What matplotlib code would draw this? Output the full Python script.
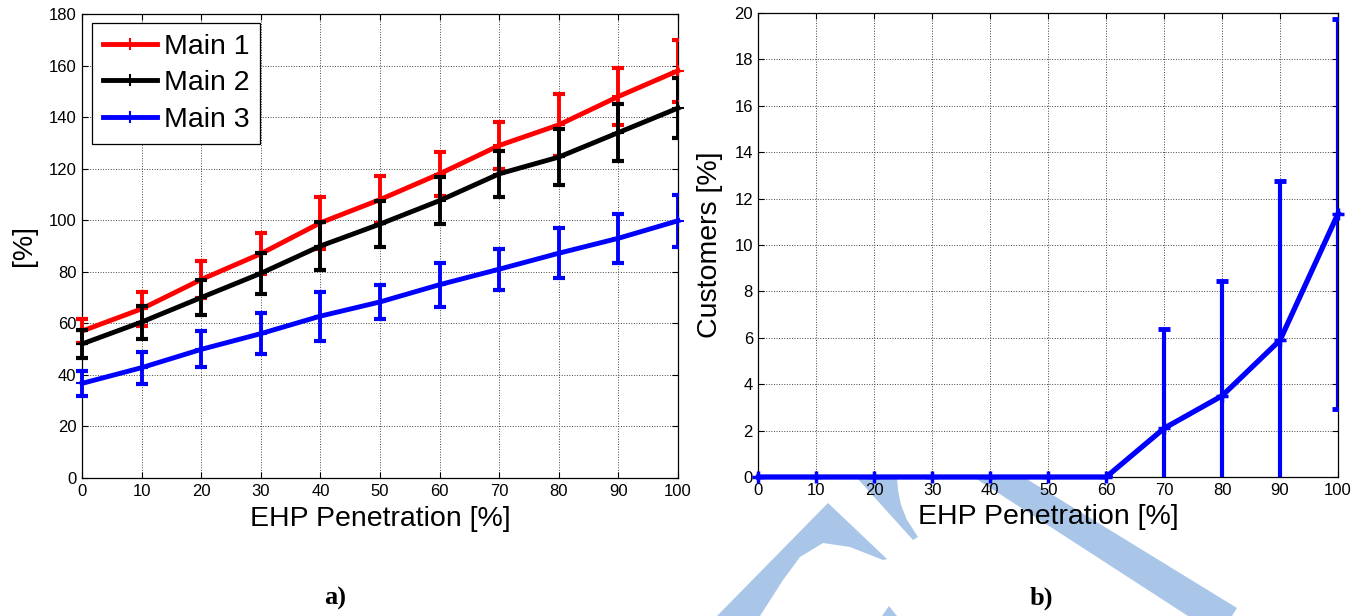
import matplotlib
matplotlib.use("Agg")
import matplotlib.pyplot as plt
from matplotlib.patches import Polygon, Rectangle
import numpy as np

# ---------------- data ----------------
penetration = [0, 10, 20, 30, 40, 50, 60, 70, 80, 90, 100]

main1 = [57, 65.6, 77, 87, 99, 108, 118, 129, 137, 148, 158]
main1_err = [4.5, 6.5, 7, 8, 10, 9, 8.5, 9, 12, 11, 12]

main2 = [52, 60.5, 70, 79.4, 90, 98.5, 107.6, 118, 124.5, 134, 143.5]
main2_err = [5.3, 6.4, 6.8, 8, 9.3, 9, 9.2, 9, 11, 11, 11.5]

main3 = [36.7, 42.8, 49.9, 56, 62.8, 68.3, 75, 81, 87.2, 93, 99.8]
main3_err = [4.7, 6.2, 7, 8, 9.5, 6.6, 8.5, 8, 9.7, 9.5, 10]

customers = [0, 0, 0, 0, 0, 0, 0, 2.1, 3.5, 5.9, 11.35]
customers_err = [0, 0, 0, 0, 0, 0, 0, 4.3, 4.96, 6.86, 8.4]

series_labels = ["Main 1", "Main 2", "Main 3"]
series_colors = ["#ff0000", "#000000", "#0000ff"]

left_yticks = list(range(0, 181, 20))
right_yticks = list(range(0, 21, 2))
xticks = list(range(0, 101, 10))

W, H = 1364, 616
fig = plt.figure(figsize=(W / 100, H / 100), dpi=100)
plt.rcParams['font.family'] = ['Liberation Sans', 'DejaVu Sans']


def px(points):
    return [(x / W, 1 - y / H) for x, y in points]


# ---------------- background watermark ----------------
wm_color = "#a9c6e8"
wm_shapes = [
    [(717, 616), (828, 503), (887, 559), (883, 560), (850, 547), (823, 543),
     (800, 557), (783, 580), (760, 616)],
    [(882, 616), (889, 606), (897, 616)],
    [(857, 478), (897, 478), (898, 490), (901, 505), (907, 520), (918, 537), (913, 540)],
    [(975, 478), (1025, 478), (1237, 608), (1232, 616), (1188, 616)],
]
for shp in wm_shapes:
    fig.add_artist(Polygon(px(shp), closed=True, facecolor=wm_color,
                           edgecolor='none', transform=fig.transFigure, zorder=-5))

# ---------------- axes ----------------
axL = fig.add_axes([82 / W, 1 - 478 / H, 596 / W, 464 / H])
axR = fig.add_axes([758.5 / W, 1 - 477 / H, 579.5 / W, 464 / H])

for ax in (axL, axR):
    ax.set_facecolor('white')
    ax.grid(True, linestyle=':', color='#444444', linewidth=0.7)
    ax.set_axisbelow(True)
    ax.tick_params(direction='in', top=True, right=True, length=4, width=0.8,
                   labelsize=12, pad=4)
    for s in ax.spines.values():
        s.set_linewidth(0.9)
        s.set_color('black')
    ax.set_xlim(0, 100)
    ax.set_xticks(xticks)
    ax.set_xlabel("EHP Penetration [%]", fontsize=20.5, labelpad=5)

# left plot
clipL = Rectangle((-0.05, -0.05), 1.05, 1.1, transform=axL.transAxes,
                  facecolor='none', edgecolor='none')
axL.add_patch(clipL)
handles = []
for vals, errs, col, lab in zip([main1, main2, main3], [main1_err, main2_err, main3_err],
                                series_colors, series_labels):
    eb = axL.errorbar(penetration, vals, yerr=errs, fmt='none', ecolor=col,
                      elinewidth=2.8, capsize=4.6, capthick=3, zorder=3)
    for art in list(eb.lines[1]) + list(eb.lines[2]):
        art.set_clip_path(clipL)
    ln, = axL.plot(penetration, vals, color=col, lw=3.5, marker='+', ms=8, mew=1.5,
                   label=lab, zorder=3, clip_on=False)
    handles.append(ln)
axL.set_ylim(0, 180)
axL.set_yticks(left_yticks)
axL.set_ylabel("[%]", fontsize=20.5, labelpad=8)
leg = axL.legend(handles=handles, loc='upper left', bbox_to_anchor=(0.0168, 0.981),
                 borderaxespad=0, fontsize=20.5, frameon=True, fancybox=False,
                 edgecolor='black', framealpha=1, handlelength=1.9, handletextpad=0.25,
                 labelspacing=0.38, borderpad=0.38, numpoints=1)
leg.get_frame().set_linewidth(0.9)

# right plot
ebR = axR.errorbar(penetration, customers, yerr=customers_err, fmt='none',
                   ecolor='#0000ff', elinewidth=3, capsize=4, capthick=3.5, zorder=3)
axR.plot(penetration, customers, color='#0000ff', lw=3.8, marker='+', ms=9, mew=2.5,
         zorder=4, clip_on=False)
axR.set_ylim(0, 20)
axR.set_yticks(right_yticks)
axR.set_ylabel("Customers [%]", fontsize=20.5, labelpad=8)

# panel labels
fig.text(335 / W, 1 - 598 / H, "a)", fontsize=19, fontweight='bold',
         family=['Liberation Serif', 'DejaVu Serif'], ha='center', va='center')
fig.text(1041 / W, 1 - 598 / H, "b)", fontsize=19, fontweight='bold',
         family=['Liberation Serif', 'DejaVu Serif'], ha='center', va='center')

fig.savefig("out.png", dpi=100)
